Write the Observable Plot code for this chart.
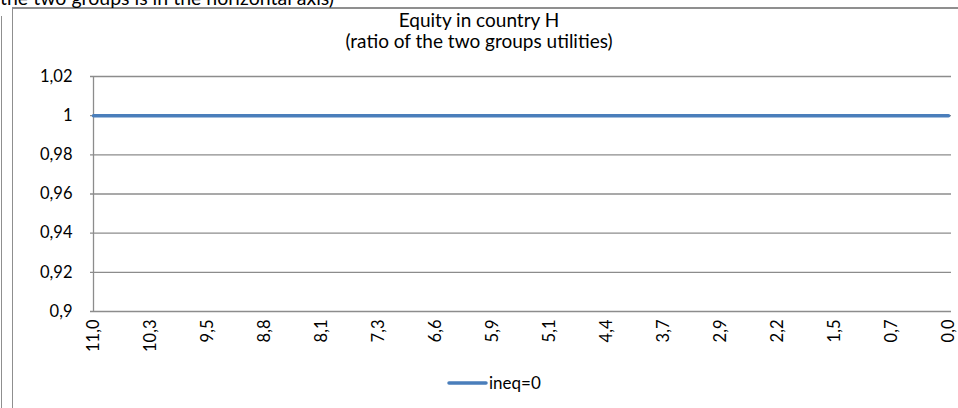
<!DOCTYPE html>
<html>
<head>
<meta charset="utf-8">
<script src="https://cdn.jsdelivr.net/npm/d3@7"></script>
<script src="https://cdn.jsdelivr.net/npm/@observablehq/plot@0.6"></script>
<style>
  html, body { margin: 0; padding: 0; background: #fff; }
  #wrap { position: relative; width: 958px; height: 408px; overflow: hidden; background: #fff; font-family: Lato, "Open Sans", sans-serif; }
  #wrap svg.plot { position: absolute; left: 0; top: 0; }
  .vline { position: absolute; background: #8f8f8f; }
  #overlay { position: absolute; left: 0; top: 0; }
</style>
</head>
<body>
<div id="wrap">
  <div class="vline" style="left:0.5px; top:16px; width:1.5px; height:400px;"></div>
  <div class="vline" style="left:11.5px; top:7px; width:1.5px; height:401px;"></div>
  <div class="vline" style="left:11.5px; top:7px; width:947px; height:1.5px;"></div>
</div>
<script>
// ---- data ----
const xLabels = ["11,0","10,3","9,5","8,8","8,1","7,3","6,6","5,9","5,1","4,4","3,7","2,9","2,2","1,5","0,7","0,0"];
const ineq0 = [1,1,1,1,1,1,1,1,1,1,1,1,1,1,1,1];
const yTicks = [0.9, 0.92, 0.94, 0.96, 0.98, 1, 1.02];
const seriesName = "ineq=0";
const titleLines = ["Equity in country H", "(ratio of the two groups utilities)"];
const topNote = "the two groups is in the horizontal axis)";

const data = xLabels.map((x, i) => ({x, y: ineq0[i], series: seriesName}));
const fmt = d => String(d).replace(".", ",");
const gridColor = "#8c8c8c";
const lineColor = "#4a7ebb";

const chart = Plot.plot({
  width: 958,
  height: 408,
  marginLeft: 90,
  marginRight: 7,
  marginTop: 76,
  marginBottom: 97,
  style: {fontFamily: "Lato, 'Open Sans', sans-serif", fontSize: "16.5px", color: "#000", background: "transparent", overflow: "visible"},
  x: {type: "point", domain: xLabels, padding: 0, label: null},
  y: {domain: [0.9, 1.02], label: null},
  marks: [
    Plot.gridY(yTicks, {stroke: gridColor, strokeOpacity: 1, strokeWidth: 1.3}),
    Plot.ruleX([xLabels[0]], {stroke: gridColor, strokeWidth: 1.3}),
    Plot.axisY(yTicks, {tickSize: 0, tickPadding: 18, tickFormat: fmt, fill: "#000", label: null}),
    Plot.axisX({tickRotate: -90, tickSize: 0, tickPadding: 8, fill: "#000", label: null}),
    Plot.lineY(data, {x: "x", y: "y", stroke: lineColor, strokeWidth: 3.5, strokeLinecap: "round"})
  ]
});
chart.classList.add("plot");
const wrap = document.getElementById("wrap");
wrap.appendChild(chart);

// overlay texts (title, clipped note, legend)
const svg = d3.select(wrap).append("svg")
  .attr("id", "overlay").attr("width", 958).attr("height", 408)
  .style("font-family", "Lato, 'Open Sans', sans-serif");

svg.append("text").attr("x", 0).attr("y", 5).attr("font-size", 19.5).text(topNote);

svg.selectAll("text.title").data(titleLines).join("text")
  .attr("class", "title")
  .attr("x", 479).attr("y", (d, i) => 27 + i * 20.5)
  .attr("text-anchor", "middle").attr("font-size", 19).text(d => d);

const lg = svg.append("g");
lg.append("line").attr("x1", 449).attr("x2", 486).attr("y1", 383).attr("y2", 383)
  .attr("stroke", lineColor).attr("stroke-width", 3.5).attr("stroke-linecap", "round");
lg.append("text").attr("x", 489).attr("y", 388.5).attr("font-size", 17).text(seriesName);
</script>
</body>
</html>
